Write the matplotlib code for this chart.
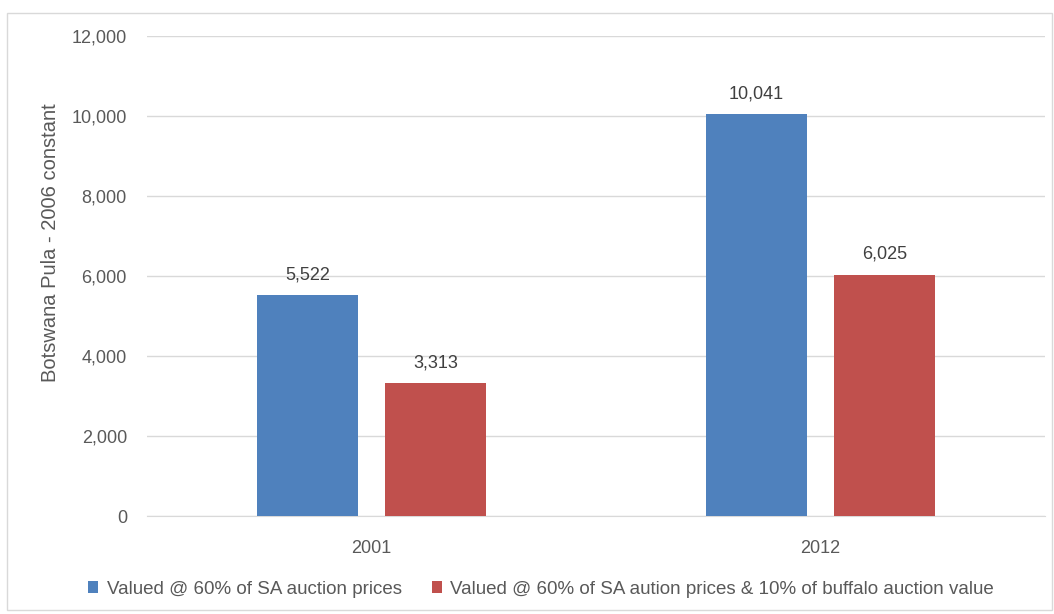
import matplotlib.pyplot as plt
from matplotlib.patches import Rectangle
from matplotlib.ticker import FuncFormatter

years = ['2001', '2012']
sa_prices = [5522, 10041]
sa_buffalo = [3313, 6025]
series_names = ['Valued @ 60% of SA auction prices',
                'Valued @ 60% of SA aution prices & 10% of buffalo auction value']

plt.rcParams['font.family'] = ['Liberation Sans', 'DejaVu Sans']
txt = '#595959'

fig = plt.figure(figsize=(10.54, 6.14), dpi=100)
ax = fig.add_axes([0.1395, 0.1596, 0.8520, 0.7818])

# chart border
fig.patches.append(Rectangle((7 / 1054, 4 / 614), 1045 / 1054, 597 / 614,
                             transform=fig.transFigure, fill=False,
                             edgecolor='#D9D9D9', linewidth=1))

x = range(len(years))
w = 0.225
off = 0.1425
b1 = ax.bar([i - off for i in x], sa_prices, w, color='#4F81BD', label=series_names[0], zorder=3)
b2 = ax.bar([i + off for i in x], sa_buffalo, w, color='#C0504D', label=series_names[1], zorder=3)

for bars in (b1, b2):
    for r in bars:
        ax.text(r.get_x() + r.get_width() / 2, r.get_height() + 300, f'{int(r.get_height()):,}',
                ha='center', va='bottom', fontsize=13, color='#404040')

ax.set_xlim(-0.5, 1.5)
ax.set_ylim(0, 12000)
ax.set_yticks(range(0, 12001, 2000))
ax.yaxis.set_major_formatter(FuncFormatter(lambda v, p: f'{int(v):,}'))
ax.set_xticks(list(x))
ax.set_xticklabels(years)
ax.tick_params(length=0, labelsize=13, colors=txt)
ax.tick_params(axis='y', pad=14.5)
ax.tick_params(axis='x', pad=17)
ax.grid(axis='y', color='#D9D9D9', linewidth=1, zorder=0)
for s in ['top', 'right', 'left']:
    ax.spines[s].set_visible(False)
ax.spines['bottom'].set_color('#D9D9D9')

fig.text(51 / 1054, (614 - 243) / 614, 'Botswana Pula - 2006 constant', rotation=90,
         ha='center', va='center', fontsize=14.5, color=txt)

ax.legend(loc='center', ncol=2, frameon=False, fontsize=13.5, labelcolor=txt,
          handlelength=0.55, handleheight=0.55, handletextpad=0.45, columnspacing=1.6)
leg = ax.get_legend()
leg.set_bbox_to_anchor((541 / 1054, 25 / 614), transform=fig.transFigure)

fig.savefig('out.png', dpi=100)
